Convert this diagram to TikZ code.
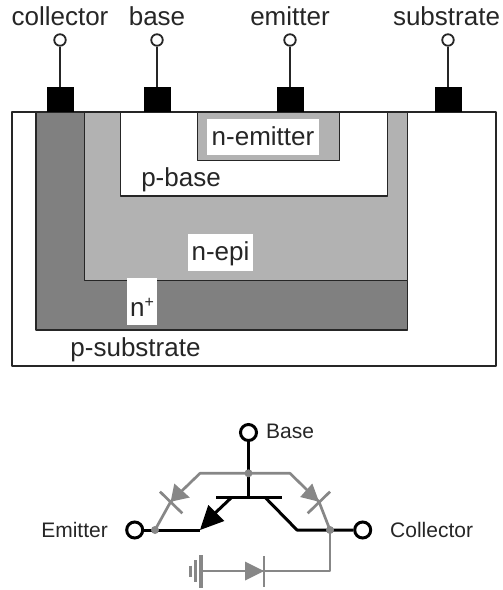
\documentclass[tikz,border=0pt]{standalone}
\usepackage{fontspec}
\setmainfont{Liberation Sans}
\definecolor{gry}{gray}{0.53}
\definecolor{midg}{gray}{0.70}
\definecolor{darkg}{gray}{0.50}
\tikzset{
  x=1pt,y=-1pt,
  region/.style={draw=black!85,line width=1.9pt,line join=round},
  contact/.style={fill=black,draw=none,minimum width=27pt,minimum height=25pt,inner sep=0pt},
  term/.style={circle,draw=black!85,fill=white,line width=1.8pt,minimum size=11.5pt,inner sep=0pt},
  bigterm/.style={circle,draw=black,fill=white,line width=3pt,minimum size=16pt,inner sep=0pt},
  toplabel/.style={font=\fontsize{26}{28}\selectfont,text=black!85,inner sep=0pt,anchor=base},
  whitelabel/.style={font=\fontsize{26}{28}\selectfont,text=black!85,fill=white,inner xsep=0pt,inner ysep=0pt,anchor=base},
  sidelabel/.style={font=\fontsize{21}{23}\selectfont,text=black!85,inner sep=0pt,anchor=base},
  blk/.style={draw=black,line width=3pt,line join=round},
  gline/.style={draw=gry,line width=2.7pt,line join=round},
  gfill/.style={fill=gry,draw=none},
  dot/.style={circle,fill=gry,inner sep=0pt,minimum size=8pt}
}
\begin{document}
\begin{tikzpicture}
\useasboundingbox (0,0) rectangle (503,590);
% cross-section
\draw[region] (12,112) rectangle (496,366);
\draw[region,fill=darkg] (36,112) rectangle (407.5,330);
\draw[region,fill=midg] (84.5,112) rectangle (407.5,280.5);
\draw[region,fill=white] (120.5,112) rectangle (387.5,196);
\draw[region,fill=midg] (197.5,112) rectangle (339.5,160.5);
\node[whitelabel,minimum width=112pt,text height=26.5pt,text depth=9.5pt] (ne) at (263,145.5) {n-emitter};
\node[whitelabel,minimum width=64.5pt,text height=26.5pt,text depth=10.5pt] (nepi) at (220.5,260) {n-epi};
\node[whitelabel,minimum width=30pt,text height=38pt,text depth=9pt] (np) at (142,316) {n\raisebox{9pt}{\fontsize{16}{16}\selectfont +}};
\node[toplabel] (pb) at (181,186) {p-base};
\node[toplabel] (ps) at (135.5,356) {p-substrate};
% contacts
\foreach \n/\x in {cc/60,cb/157,ce/290,cs/448}{
  \node[contact] (\n) at (\x,99.5) {};
  \node[term] (\n t) at (\x,40) {};
  \draw[black!85,line width=1.8pt] (\n t) -- (\n);
}
\node[toplabel] (lc) at (60,25) {collector};
\node[toplabel] (lb) at (157,25) {base};
\node[toplabel] (le) at (290,25) {emitter};
\node[toplabel] (ls) at (446.5,25) {substrate};
% schematic
\node[bigterm] (B) at (248.5,432.5) {};
\node[bigterm] (E) at (134.7,530) {};
\node[bigterm] (C) at (362.7,530) {};
\node[sidelabel,anchor=base west] (lB) at (266,438) {Base};
\node[sidelabel,anchor=base east] (lE) at (108,537) {Emitter};
\node[sidelabel,anchor=base west] (lC) at (390,537) {Collector};
\coordinate (J) at (248.5,473.3);
\coordinate (M) at (248.5,497.3);
\coordinate (De) at (155,530);
\coordinate (Dc) at (330,530);
% grey network
\draw[gline] (J) -- (200,473.3) -- (170.7,501.7) -- (De);
\draw[gline] (J) -- (290,473.3) -- (319,501.7) -- (Dc);
\fill[gfill] (170.7,501.7) -- (174.3,483.5) -- (189.8,497.5) -- cycle;
\fill[gfill] (319,501.7) -- (312.3,483.5) -- (300.2,497) -- cycle;
\draw[gline] (160,491.7) -- (182.3,513.3);
\draw[gline] (330,491.7) -- (307.7,513.3);
\draw[gline] (Dc) -- (330,571) -- (201,571);
\fill[gfill] (264,571) -- (245,561.5) -- (245,580.5) -- cycle;
\draw[gline] (264,556) -- (264,586.7);
\draw[gline,line width=3.4pt] (201,555) -- (201,587.7);
\draw[gline] (195.7,560) -- (195.7,582);
\draw[gline] (190.7,565.7) -- (190.7,577);
% black transistor
\draw[blk] (B) -- (M);
\draw[blk] (216,497.3) -- (281.7,497.3);
\draw[blk] (231.7,497.3) -- (212,516);
\fill[black] (200,530) -- (208.3,505) -- (224.3,521) -- cycle;
\draw[blk] (E) -- (De) -- (200,530);
\draw[blk] (265,497.3) -- (297,530) -- (C);
\node[dot] (dJ) at (J) {};
\node[dot] (dE) at (De) {};
\node[dot] (dC) at (Dc) {};
\end{tikzpicture}
\end{document}
